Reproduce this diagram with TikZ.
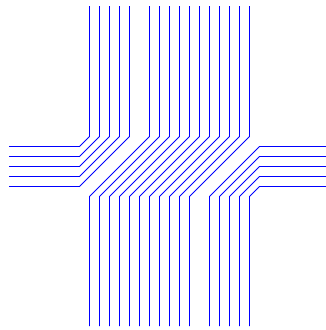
\documentclass[tikz,border=0pt]{standalone}
\begin{document}
\begin{tikzpicture}[x=1pt,y=-1pt,wire/.style={draw=blue,line width=0.9pt}]
\useasboundingbox (0,0) rectangle (326,330);
\foreach \i in {0,...,4}{
  \draw[wire] (9,146.5+10*\i) -- (79.5,146.5+10*\i) -- (89.5+10*\i,136.5) -- (89.5+10*\i,6);
  \draw[wire] (326,146.5+10*\i) -- (259.5,146.5+10*\i) -- (209.5+10*\i,196.5) -- (209.5+10*\i,326);
}
\foreach \j in {0,...,10}{
  \draw[wire] (149.5+10*\j,6) -- (149.5+10*\j,136.5) -- (89.5+10*\j,196.5) -- (89.5+10*\j,326);
}
\end{tikzpicture}
\end{document}
